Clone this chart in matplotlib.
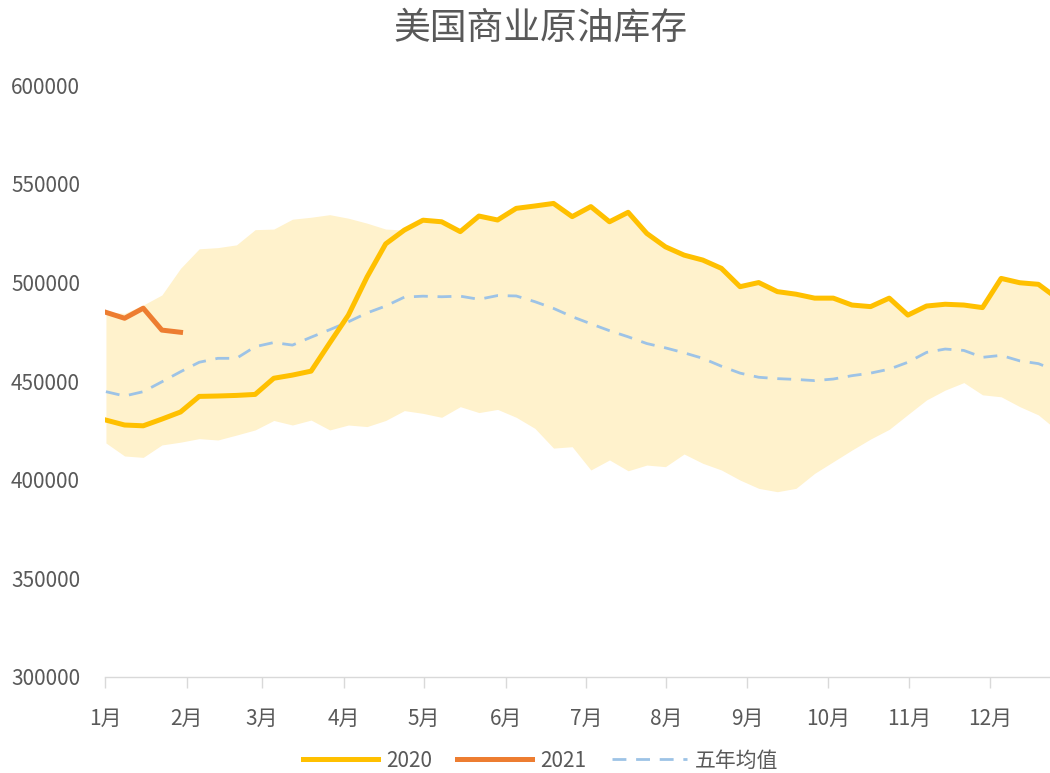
import matplotlib
matplotlib.use("Agg")
import matplotlib.pyplot as plt
import numpy as np

plt.rcParams['font.family'] = ['Noto Sans CJK SC', 'DejaVu Sans']

title = "美国商业原油库存"
month_labels = ["1月", "2月", "3月", "4月", "5月", "6月", "7月", "8月", "9月", "10月", "11月", "12月"]
# month boundary positions, in week-index units
month_pos = [-0.05, 4.34, 8.36, 12.76, 17.05, 21.45, 25.74, 30.03, 34.37, 38.71, 43.06, 47.40]

# weekly values (thousand barrels)
y2020 = [430200, 427700, 427300, 430700, 434300, 442200, 442400, 442700, 443200, 451400,
         453000, 455000, 469300, 483400, 502700, 519500, 526500, 531500, 530700, 525700,
         533600, 531600, 537500, 538700, 540000, 533300, 538400, 530700, 535500, 524800,
         518000, 513800, 511300, 507100, 497800, 499900, 495300, 494000, 492000, 492000,
         488500, 487700, 492000, 483400, 488000, 488900, 488500, 487200, 502000, 499800,
         499000, 492000]
y2021 = [484800, 481800, 486900, 475800, 474700]
avg5 = [444600, 442400, 444600, 449600, 454700, 459500, 461500, 461500, 467400, 469500,
        468200, 472200, 476000, 480000, 484500, 488000, 492500, 493000, 492700, 493000,
        491400, 493300, 493100, 490200, 486800, 482600, 479000, 475500, 472400, 469000,
        466800, 464300, 461500, 457500, 454000, 451900, 451200, 450800, 450200, 451000,
        452700, 454000, 456000, 459500, 464500, 466200, 465500, 462000, 463000, 460200,
        458800, 455000]
band_max = [485000, 484300, 488500, 493600, 507100, 517000, 517600, 519000, 526700, 527000,
            532000, 533000, 534300, 532500, 530000, 527000, 526500, 531500, 530700, 525700,
            533600, 531600, 537500, 538700, 540000, 533300, 538400, 530700, 535500, 524800,
            518000, 513800, 511300, 507100, 497800, 499900, 495300, 494000, 492000, 492000,
            488500, 487700, 492000, 483400, 488000, 488900, 488500, 487200, 502000, 499800,
            499000, 492000]
band_min = [418600, 412000, 411300, 417600, 419000, 420800, 420100, 422600, 425200, 430000,
            427700, 430200, 425200, 427700, 426900, 430000, 435000, 433600, 431600, 437000,
            434000, 435600, 431600, 426000, 416000, 416700, 404900, 410000, 404500, 407400,
            406600, 413000, 408300, 404900, 399800, 395600, 393900, 395600, 403200, 409100,
            415000, 420600, 425500, 433000, 440400, 445400, 449200, 443000, 442000, 437000,
            432800, 425000]

x = np.arange(len(y2020))
x21 = np.arange(len(y2021))

fig = plt.figure(figsize=(10.5, 7.73), dpi=100)
ax = fig.add_axes([0.1, 0.1242, 0.9, 0.7658])

ax.fill_between(x, band_min, band_max, color="#FFF2CC", linewidth=0, zorder=1)
lavg, = ax.plot(x, avg5, color="#9DC3E6", linewidth=2.0, linestyle=(0, (5, 3.5)), zorder=2, label="五年均值")
l20, = ax.plot(x, y2020, color="#FFC000", linewidth=3.6, zorder=3, label="2020", solid_joinstyle="round")
l21, = ax.plot(x21, y2021, color="#ED7D31", linewidth=3.6, zorder=4, label="2021", solid_joinstyle="round")

ax.set_xlim(-0.05, 50.62)
ax.set_ylim(300000, 600000)
ax.set_yticks(np.arange(300000, 600001, 50000))
ax.set_yticklabels([str(v) for v in range(300000, 600001, 50000)])
ax.set_xticks(month_pos)
ax.set_xticklabels(month_labels)

for s in ["top", "right", "left"]:
    ax.spines[s].set_visible(False)
ax.spines["bottom"].set_color("#D9D9D9")
ax.spines["bottom"].set_linewidth(1.0)
ax.tick_params(axis="x", direction="out", length=8, width=1, color="#D9D9D9",
               labelsize=15, labelcolor="#595959", pad=14)
ax.tick_params(axis="y", length=0, labelsize=15, labelcolor="#595959", pad=18)

fig.text(0.515, 0.963, title, ha="center", va="center", fontsize=26.5, color="#595959")

handles = [l20, l21, lavg]
labels = ["2020", "2021", "五年均值"]
fig.legend(handles, labels, loc="center", bbox_to_anchor=(0.515, 0.016), ncol=3, frameon=False,
           fontsize=15, labelcolor="#595959", handlelength=3.6, columnspacing=1.2,
           handletextpad=0.4, borderpad=0.0, borderaxespad=0.0)

fig.savefig("out.png", dpi=100)
